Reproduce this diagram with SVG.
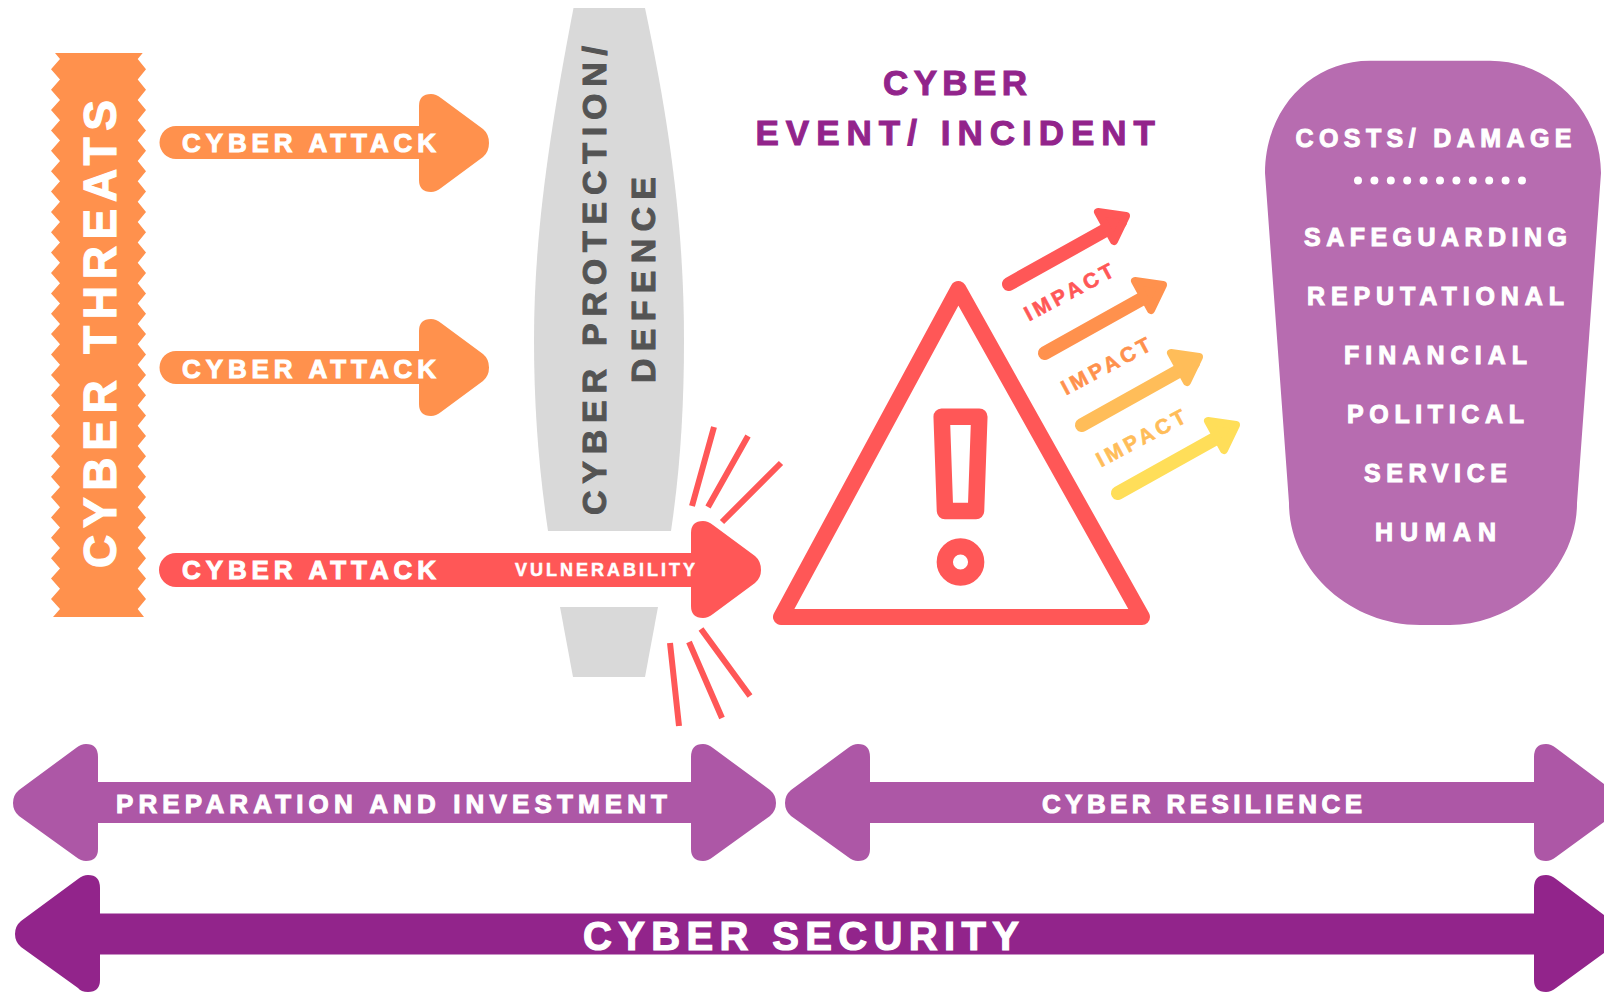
<svg xmlns="http://www.w3.org/2000/svg" width="1604" height="992" viewBox="0 0 1604 992">
<style>
text{font-family:"Liberation Sans",Arial,sans-serif;font-weight:700;fill:#fff;stroke:#fff;stroke-width:1;text-anchor:start}
.att{font-size:26px}
.cost{font-size:25px}
.imp{font-size:21px;stroke-width:.6}
.grey{fill:#545454;stroke:#545454}
.head{fill:#92248b;stroke:#92248b}
</style>
<rect width="1604" height="992" fill="#fff"/>
<g id="threats">
<path fill="#ff914d" d="M55 53H142.700L137.700 59.100L146 69.300L137.700 79.500L146 89.700L137.700 99.900L146 110L137.700 120.200L146 130.400L137.700 140.600L146 150.800L137.700 161L146 171.200L137.700 181.300L146 191.500L137.700 201.700L146 211.900L137.700 222.100L146 232.300L137.700 242.400L146 252.600L137.700 262.800L146 273L137.700 283.200L146 293.400L137.700 303.600L146 313.700L137.700 323.900L146 334.100L137.700 344.300L146 354.500L137.700 364.700L146 374.900L137.700 385L146 395.200L137.700 405.400L146 415.600L137.700 425.800L146 436L137.700 446.100L146 456.300L137.700 466.500L146 476.700L137.700 486.900L146 497.100L137.700 507.300L146 517.400L137.700 527.600L146 537.800L137.700 548L146 558.200L137.700 568.400L146 578.600L137.700 588.700L146 598.900L137.700 609.100L144 617H53L60 609.100L51 598.900L60 588.700L51 578.600L60 568.400L51 558.200L60 548L51 537.800L60 527.600L51 517.400L60 507.300L51 497.100L60 486.900L51 476.700L60 466.500L51 456.300L60 446.100L51 436L60 425.800L51 415.600L60 405.400L51 395.200L60 385L51 374.900L60 364.700L51 354.500L60 344.300L51 334.100L60 323.900L51 313.700L60 303.600L51 293.400L60 283.200L51 273L60 262.800L51 252.600L60 242.400L51 232.300L60 222.100L51 211.900L60 201.700L51 191.500L60 181.300L51 171.200L60 161L51 150.800L60 140.600L51 130.400L60 120.200L51 110L60 99.900L51 89.700L60 79.500L51 69.300L60 59.100Z"/>
<text transform="translate(116 568) rotate(-90)" font-size="46" textLength="468" lengthAdjust="spacing" style="stroke-width:1.200">CYBER THREATS</text>
</g>
<g id="protection">
<path fill="#d9d9d9" d="M573.500 8H645C673 140 684 240 684 340C684 410 680 470 671 531H548C539 470 534 410 534 340C534 240 548 140 573.500 8Z"/>
<path fill="#d9d9d9" d="M560 607H658L645 677H573Z"/>
<text class="grey" transform="translate(606 515) rotate(-90)" font-size="34" textLength="469" lengthAdjust="spacing">CYBER PROTECTION/</text>
<text class="grey" transform="translate(655 383) rotate(-90)" font-size="34" textLength="206" lengthAdjust="spacing">DEFENCE</text>
</g>
<g id="connectors">
<g fill="#ff914d">
<path d="M176 126H419V106Q419 94 431 94Q436 94 441 98L483 129Q489 134 489 143Q489 152 483 157L441 188Q436 192 431 192Q419 192 419 180V159H176A16.500 16.500 0 0 1 176 126Z"/>
<path d="M176 351H419V331Q419 319 431 319Q436 319 441 323L483 354Q489 359 489 367.500Q489 376 483 381L441 412Q436 416 431 416Q419 416 419 404V384H176A16.500 16.500 0 0 1 176 351Z"/>
</g>
<path fill="#ff5757" d="M176 553H691V533Q691 521 703 521Q708 521 713 525L755 556Q761 561 761 570Q761 578 755 583L713 614Q708 618 703 618Q691 618 691 606V587H176A17 17 0 0 1 176 553Z"/>
<g stroke="#ff5757" stroke-width="6" fill="none">
<path d="M714 427L692 506M748 436L708 507M781 463L722 522M670 643L679 726M689 642L722 718M701 629L750 696"/>
</g>
<g fill="none" stroke-linecap="round" stroke-linejoin="round" stroke-width="14">
<path stroke="#ff5757" d="M1009 284L1120 222"/><path stroke="#ff914d" d="M1045 353L1156 291"/><path stroke="#ffbd59" d="M1082 425L1193 363"/><path stroke="#ffde59" d="M1118 493L1229 431"/>
</g>
<g stroke-linejoin="round" stroke-width="8">
<path fill="#ff5757" stroke="#ff5757" d="M1098 212L1126 216L1114 241Z"/>
<path fill="#ff914d" stroke="#ff914d" d="M1135 281L1163 285L1151 310Z"/>
<path fill="#ffbd59" stroke="#ffbd59" d="M1171 353L1199 357L1187 382Z"/>
<path fill="#ffde59" stroke="#ffde59" d="M1208 421L1236 425L1224 450Z"/>
</g>
<g fill="#ad57a6">
<path d="M98 782V757Q98 744 86 744Q81 744 76 748L19 790Q13 795 13 803Q13 811 19 816L76 857Q81 861 86 861Q98 861 98 849V823H691V849Q691 861 703 861Q708 861 713 857L770 816Q776 811 776 803Q776 795 770 790L713 748Q708 744 703 744Q691 744 691 757V782Z"/>
<path d="M870 782V757Q870 744 858 744Q853 744 848 748L791 790Q785 795 785 803Q785 811 791 816L848 857Q853 861 858 861Q870 861 870 849V823H1534V849Q1534 861 1546 861Q1551 861 1556 857L1604 822V784L1556 748Q1551 744 1546 744Q1534 744 1534 757V782Z"/>
</g>
<path fill="#92248b" d="M100 913.500V888Q100 875 88 875Q83 875 78 879L21 921Q15 926 15 934Q15 942 21 947L78 988Q81 992 88 992Q100 992 100 980V954.500H1534V980Q1534 992 1546 992Q1551 992 1556 988L1604 953V915L1556 879Q1551 875 1546 875Q1534 875 1534 888V913.500Z"/>
</g>
<g id="attack-labels">
<text class="att" x="182" y="152" textLength="254" lengthAdjust="spacing">CYBER ATTACK</text>
<text class="att" x="182" y="378" textLength="254" lengthAdjust="spacing">CYBER ATTACK</text>
<text class="att" x="182" y="579" textLength="254" lengthAdjust="spacing">CYBER ATTACK</text>
<text x="515" y="576" font-size="18" textLength="180" lengthAdjust="spacing" style="stroke-width:.5">VULNERABILITY</text>
</g>
<g id="incident">
<text class="head" x="883" y="94.500" font-size="35" textLength="144" lengthAdjust="spacing">CYBER</text>
<text class="head" x="755.500" y="144.500" font-size="35" textLength="399.500" lengthAdjust="spacing">EVENT/ INCIDENT</text>
<path fill="none" stroke="#ff5757" stroke-width="16" stroke-linejoin="round" d="M958.300 289L781 617H1142Z"/>
<path fill="none" stroke="#ff5757" stroke-width="16.500" stroke-linejoin="round" d="M941.700 416.700H979.300L976 511H945Z"/>
<circle cx="960.500" cy="562" r="15.700" fill="none" stroke="#ff5757" stroke-width="16.300"/>
</g>
<g id="impact">
<text class="imp" transform="translate(1029 321.500) rotate(-28)" style="fill:#ff5757;stroke:#ff5757" textLength="98" lengthAdjust="spacing">IMPACT</text>
<text class="imp" transform="translate(1066 395.500) rotate(-28)" style="fill:#ff914d;stroke:#ff914d" textLength="98" lengthAdjust="spacing">IMPACT</text>
<text class="imp" transform="translate(1101 467.500) rotate(-28)" style="fill:#ffbd59;stroke:#ffbd59" textLength="98" lengthAdjust="spacing">IMPACT</text>
</g>
<g id="costs">
<path fill="#b76cb0" d="M1370 60.700H1490C1550 60.700 1601 110 1601 173L1577 503C1577 570 1515 625 1450 625H1420C1350 625 1289 570 1289 503L1265 173C1265 110 1310 60.700 1370 60.700Z"/>
<text class="cost" x="1295.500" y="147" textLength="276" lengthAdjust="spacing">COSTS/ DAMAGE</text>
<path stroke="#fff" stroke-width="8" stroke-linecap="round" stroke-dasharray="0 16.400" fill="none" d="M1358 180.500H1526"/>
<text class="cost" x="1304" y="246" textLength="263" lengthAdjust="spacing">SAFEGUARDING</text>
<text class="cost" x="1307" y="305" textLength="257" lengthAdjust="spacing">REPUTATIONAL</text>
<text class="cost" x="1344" y="364" textLength="183" lengthAdjust="spacing">FINANCIAL</text>
<text class="cost" x="1347" y="423" textLength="177" lengthAdjust="spacing">POLITICAL</text>
<text class="cost" x="1364" y="482" textLength="143" lengthAdjust="spacing">SERVICE</text>
<text class="cost" x="1375" y="541" textLength="121" lengthAdjust="spacing">HUMAN</text>
</g>
<g id="bands">
<text x="116" y="813" font-size="26" textLength="551" lengthAdjust="spacing">PREPARATION AND INVESTMENT</text>
<text x="1042" y="813" font-size="26" textLength="320" lengthAdjust="spacing">CYBER RESILIENCE</text>
<text x="583" y="949.500" font-size="40" textLength="436" lengthAdjust="spacing" style="stroke-width:1.200">CYBER SECURITY</text>
</g>
</svg>
